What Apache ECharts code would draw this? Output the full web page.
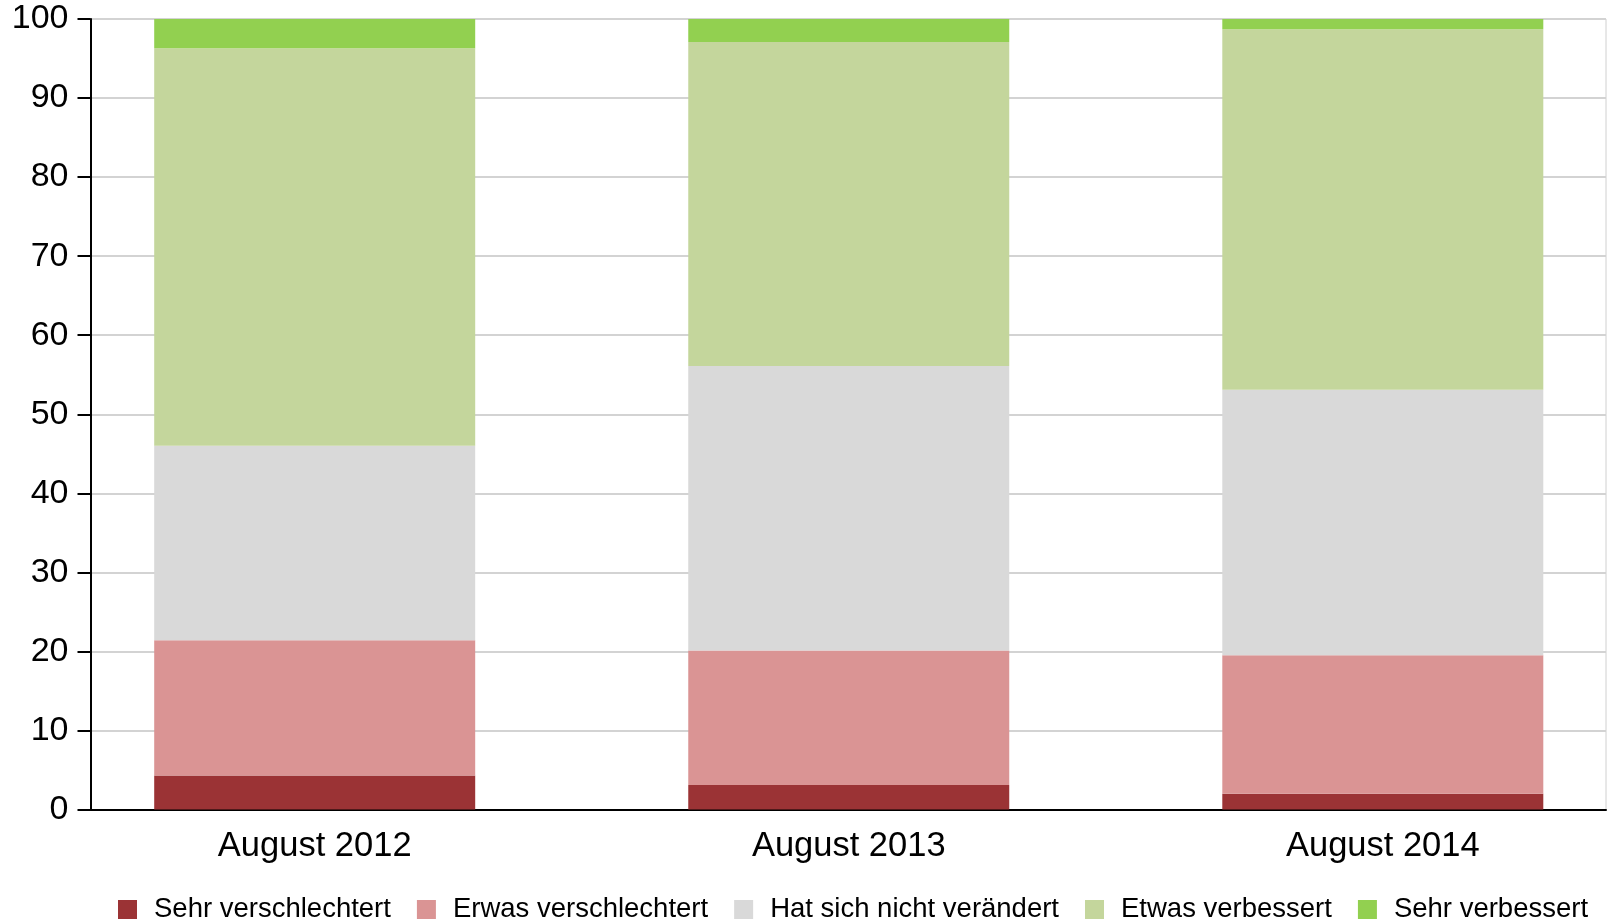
<!DOCTYPE html>
<html>
<head>
<meta charset="utf-8">
<script src="https://cdn.jsdelivr.net/npm/echarts@6/dist/echarts.min.js"></script>
<style>
    html, body { margin: 0; padding: 0; background: #fff; }
    #chart1 { width: 1610px; height: 921px; }
</style>
</head>
<body>
<div id="chart1"></div>
<script>
    // categories and values (percent), bottom to top of each stack
    var categories = ['August 2012', 'August 2013', 'August 2014'];
    var seriesNames = ['Sehr verschlechtert', 'Erwas verschlechtert', 'Hat sich nicht verändert', 'Etwas verbessert', 'Sehr verbessert'];
    var sehrVerschlechtert = [4.3, 3.1, 2.0];
    var erwasVerschlechtert = [17.1, 17.0, 17.5];
    var nichtVerandert = [24.6, 36.0, 33.6];
    var etwasVerbessert = [50.3, 41.0, 45.6];
    var sehrVerbessert = [3.7, 2.9, 1.3];
    var yTicks = [0, 10, 20, 30, 40, 50, 60, 70, 80, 90, 100];

    var colors = ['#9b3335', '#da9494', '#d9d9d9', '#c4d69c', '#92d050'];
    var values = [sehrVerschlechtert, erwasVerschlechtert, nichtVerandert, etwasVerbessert, sehrVerbessert];
    var font = 'Liberation Sans, Arial, sans-serif';

    // bars live in a second grid whose edges are the first and last bar centres
    var series = seriesNames.map(function(name, i) {
        return {
            name: name,
            type: 'bar',
            stack: 'total',
            xAxisIndex: 1,
            yAxisIndex: 1,
            barWidth: 321,
            clip: false,
            itemStyle: { color: colors[i] },
            data: values[i]
        };
    });

    var option = {
        animation: false,
        backgroundColor: '#fff',
        color: colors,
        legend: {
            data: seriesNames,
            left: 113,
            top: 890,
            icon: 'rect',
            itemWidth: 19,
            itemHeight: 19,
            itemGap: 26,
            textStyle: {
                fontFamily: font,
                fontSize: 27.5,
                color: '#000',
                lineHeight: 29,
                padding: [0, 0, 0, 12]
            }
        },
        grid: [
            { left: 90.5, right: 4, top: 19, bottom: 111.5, show: true, borderColor: '#d0d0d0', borderWidth: 1 },
            { left: 314.7, right: 227.2, top: 19, bottom: 111.5 }
        ],
        xAxis: [{
            gridIndex: 0,
            type: 'category',
            data: categories,
            axisLine: { lineStyle: { color: '#000', width: 2 } },
            axisTick: { show: false },
            axisLabel: { show: false }
        }, {
            gridIndex: 1,
            type: 'category',
            data: categories,
            boundaryGap: false,
            axisLine: { show: false },
            axisTick: { show: false },
            splitLine: { show: false },
            axisLabel: {
                margin: 19,
                fontFamily: font,
                fontSize: 34.5,
                color: '#000'
            }
        }],
        yAxis: [{
            gridIndex: 0,
            type: 'value',
            min: 0,
            max: 100,
            interval: 10,
            axisLine: { show: true, lineStyle: { color: '#000', width: 2 } },
            axisTick: { show: true, length: 13, lineStyle: { color: '#000', width: 2 } },
            axisLabel: {
                margin: 22,
                fontFamily: font,
                fontSize: 34,
                color: '#000'
            },
            splitLine: { lineStyle: { color: '#d3d3d3', width: 2 } }
        }, {
            gridIndex: 1,
            type: 'value',
            min: 0,
            max: 100,
            show: false,
            splitLine: { show: false }
        }],
        series: series
    };

    var myChart = echarts.init(document.getElementById('chart1'));
    myChart.setOption(option);
</script>
</body>
</html>
